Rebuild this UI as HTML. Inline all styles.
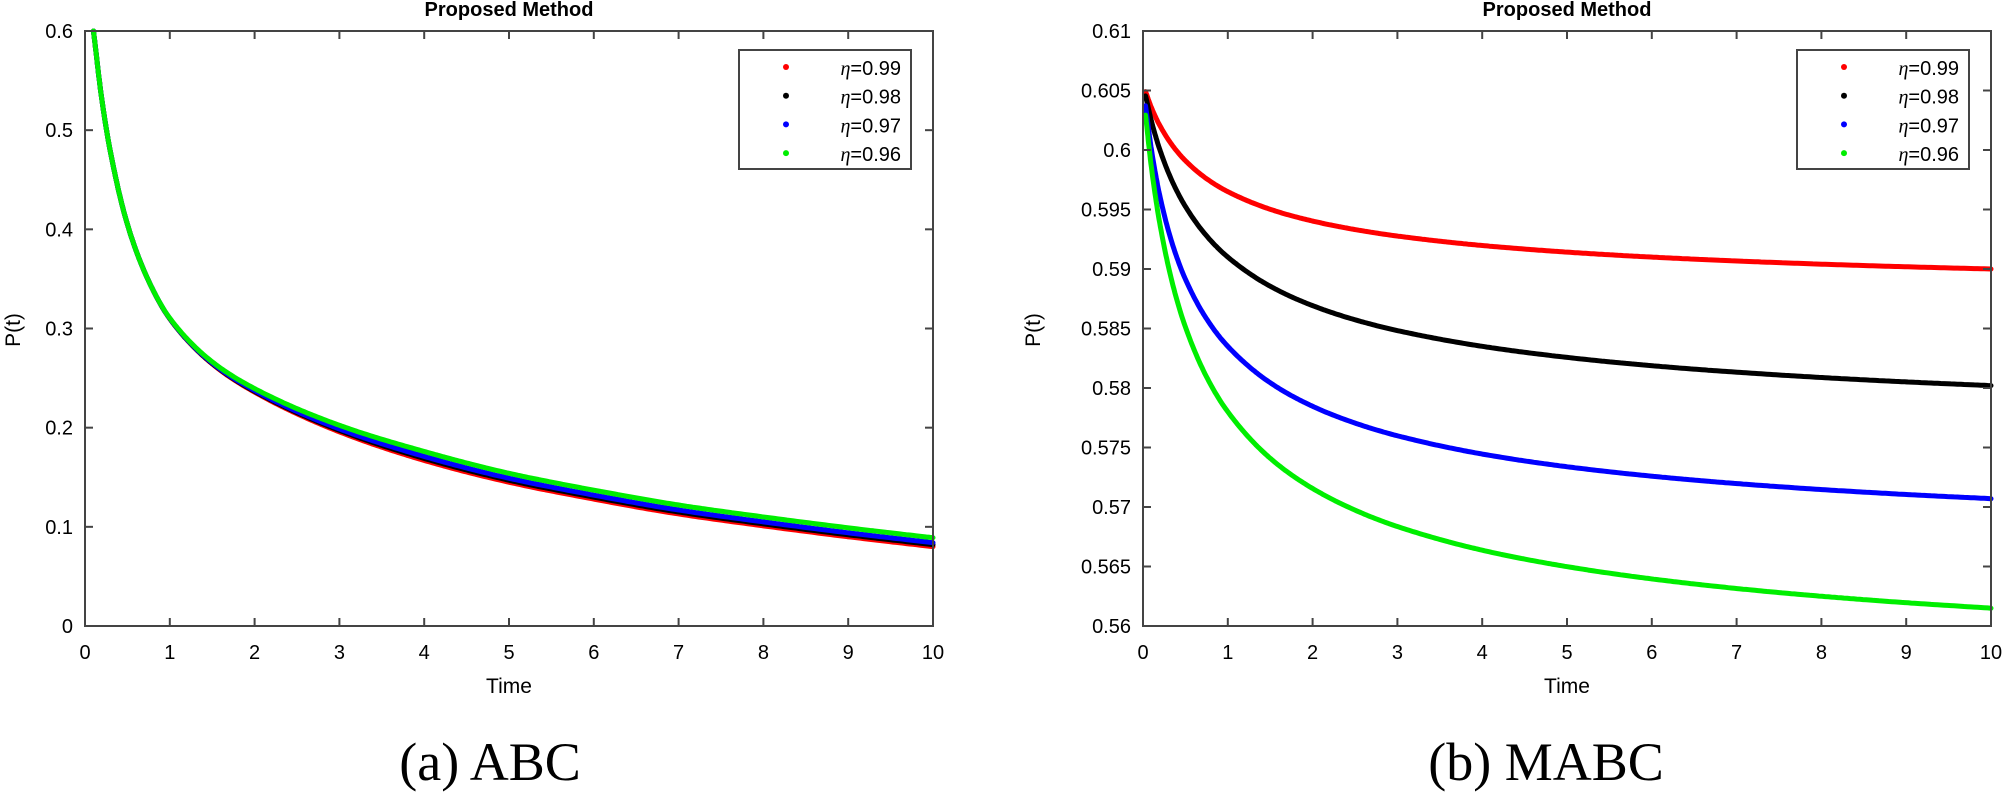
<!DOCTYPE html>
<html><head><meta charset="utf-8"><style>
body{margin:0;background:#fff;}
svg{display:block;font-family:"Liberation Sans",Arial,sans-serif;}
</style></head><body>
<svg id="s" width="2004" height="792" viewBox="0 0 2004 792" xmlns="http://www.w3.org/2000/svg"></svg>
<script>
const S=document.getElementById('s');let h='';
function pchip(P){const n=P.length,x=P.map(p=>p[0]),y=P.map(p=>p[1]),d=[],m=[];
for(let i=0;i<n-1;i++)d.push((y[i+1]-y[i])/(x[i+1]-x[i]));
m[0]=d[0];m[n-1]=d[n-2];
for(let i=1;i<n-1;i++){if(d[i-1]*d[i]<=0)m[i]=0;else{const h0=x[i]-x[i-1],h1=x[i+1]-x[i],w1=2*h1+h0,w2=h1+2*h0;m[i]=(w1+w2)/(w1/d[i-1]+w2/d[i]);}}
return t=>{let i=0;while(i<n-2&&t>x[i+1])i++;const hh=x[i+1]-x[i],s=(t-x[i])/hh,s2=s*s,s3=s2*s;
return (2*s3-3*s2+1)*y[i]+(s3-2*s2+s)*hh*m[i]+(-2*s3+3*s2)*y[i+1]+(s3-s2)*hh*m[i+1];};}
function plot(L,ymin,ymax,ystep,ylabs,series,title,cap,capx,legL,ylx){
 const R=L+848,T=31,B=626;
 const X=t=>L+t*84.8,Y=v=>B-(v-ymin)/(ymax-ymin)*(B-T);
 for(const s of series){const f=pchip(s.p),t0=s.p[0][0];let d='';
  for(let k=0;k<=400;k++){const t=t0+(10-t0)*Math.pow(k/400,1.6);d+=(k?'L':'M')+X(t).toFixed(1)+','+Y(f(t)).toFixed(1);}
  h+=`<path d="${d}" fill="none" stroke="${s.c}" stroke-width="5" stroke-linecap="round" stroke-linejoin="round"/>`;}
 h+=`<rect x="${L}" y="${T}" width="848" height="${B-T}" fill="none" stroke="#444" stroke-width="2"/>`;
 for(let i=0;i<=10;i++){const x=X(i);h+=`<line x1="${x}" y1="${B}" x2="${x}" y2="${B-8}" stroke="#444" stroke-width="2"/><line x1="${x}" y1="${T}" x2="${x}" y2="${T+8}" stroke="#444" stroke-width="2"/><text x="${x}" y="${B+33}" font-size="20" text-anchor="middle">${i}</text>`;}
 ylabs.forEach((lab,i)=>{const y=Y(ymin+i*ystep);h+=`<line x1="${L}" y1="${y}" x2="${L+8}" y2="${y}" stroke="#444" stroke-width="2"/><line x1="${R}" y1="${y}" x2="${R-8}" y2="${y}" stroke="#444" stroke-width="2"/><text x="${L-12}" y="${y+7}" font-size="20" text-anchor="end">${lab}</text>`;});
 h+=`<text x="${(L+R)/2}" y="693" font-size="21" text-anchor="middle">Time</text>`;
 h+=`<text x="${ylx}" y="330" font-size="21" text-anchor="middle" transform="rotate(-90 ${ylx} 330)">P(t)</text>`;
 h+=`<text x="${(L+R)/2}" y="16" font-size="20" font-weight="bold" text-anchor="middle">${title}</text>`;
 h+=`<text x="${capx}" y="780" font-size="54" font-family="Liberation Serif,serif" text-anchor="middle">${cap}</text>`;
 h+=`<rect x="${legL}" y="50" width="172" height="119" fill="#fff" stroke="#444" stroke-width="2"/>`;
 ['red','black','blue','#00ee00'].forEach((c,i)=>{const y=67+i*28.7;h+=`<circle cx="${legL+47}" cy="${y}" r="3" fill="${c}"/><text x="${legL+162}" y="${y+8}" font-size="20" text-anchor="end"><tspan font-family="Liberation Serif,serif" font-style="italic">η</tspan>=0.9${9-i}</text>`;});
}
const base=[[0.1,0.6],[0.2,0.53],[0.3,0.478],[0.5,0.405],[0.75,0.348],[1,0.31],[1.5,0.265],[2,0.237],[3,0.198],[4,0.170],[5,0.148],[6,0.131],[7,0.116],[8,0.104],[9,0.093],[10,0.083]];
const mk=(d)=>base.map(q=>[q[0],q[1]+d*Math.min(1,Math.max(0,q[0]-0.8)/3)]);
plot(85,0,0.6,0.1,['0','0.1','0.2','0.3','0.4','0.5','0.6'],[
 {c:'red',p:mk(-0.003)},{c:'black',p:mk(-0.001)},{c:'blue',p:mk(0.001)},{c:'#00ee00',p:mk(0.006)}],
 'Proposed Method','(a) ABC',490,739,20);
function curve(P0,Pinf,k,p){const a=[];for(const t of [0.03,0.1,0.2,0.35,0.5,0.75,1,1.5,2,2.5,3,4,5,6,7,8,9,10])a.push([t,Pinf+(P0-Pinf)*Math.pow(1+k*t,-p)]);return a;}
function fit(P0,v1,v10){ // find Pinf, k with p=0.6 s.t. values match
 let best=null;for(let k=0.5;k<20;k+=0.1){const p=0.55;const g1=Math.pow(1+k,-p),g10=Math.pow(1+10*k,-p);
 const Pinf=(v10-v1*g10/g1+ (P0*0))/(1-g10/g1); // ignore P0 consistency
 const A=(v1-Pinf)/g1;const err=Math.abs(Pinf+A-P0);if(!best||err<best.e)best={e:err,k,Pinf,A,p};}
 const a=[];for(const t of [0.03,0.1,0.2,0.35,0.5,0.75,1,1.5,2,2.5,3,4,5,6,7,8,9,10])a.push([t,best.Pinf+best.A*Math.pow(1+best.k*t,-best.p)]);return a;}
plot(1143,0.56,0.61,0.005,['0.56','0.565','0.57','0.575','0.58','0.585','0.59','0.595','0.6','0.605','0.61'],[
 {c:'red',p:fit(0.6055,0.5965,0.590)},
 {c:'black',p:fit(0.6055,0.591,0.5802)},
 {c:'blue',p:fit(0.6055,0.5835,0.5707)},
 {c:'#00ee00',p:fit(0.6055,0.578,0.5615)}],
 'Proposed Method','(b) MABC',1546,1797,1040);
S.innerHTML=h;
</script>
</body></html>
